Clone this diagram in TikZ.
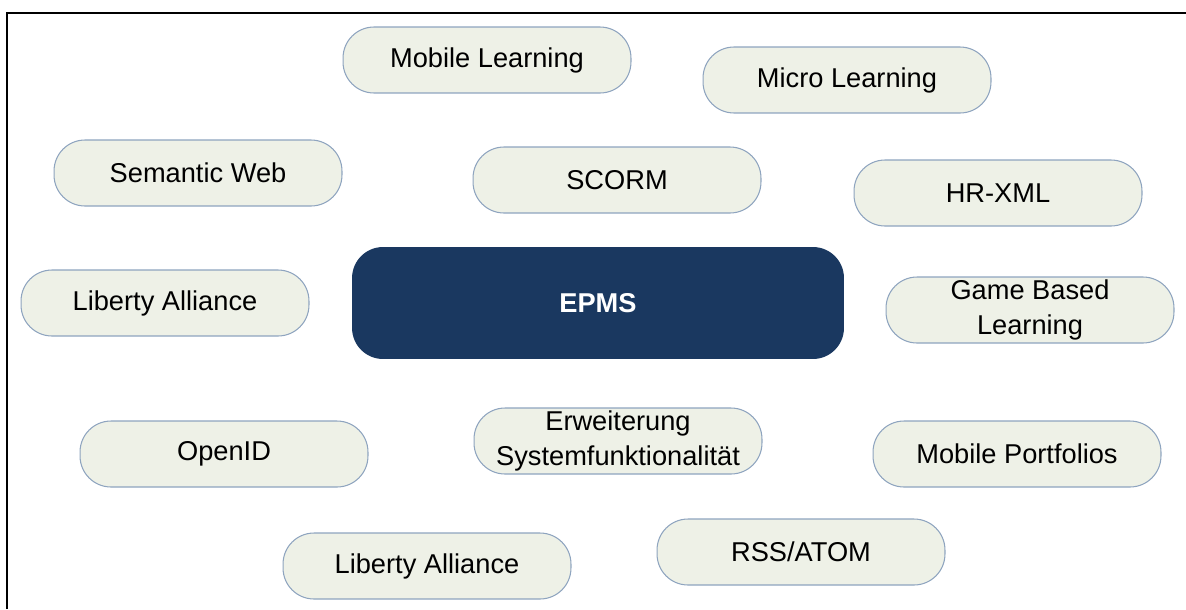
\documentclass[tikz,border=0pt]{standalone}
\usepackage{fontspec}
\setmainfont{Liberation Sans}
\usepackage{tikz}
\usetikzlibrary{positioning}
\definecolor{paleleaf}{HTML}{EEF1E7}
\definecolor{steelrim}{HTML}{8EA4BF}
\definecolor{deepnavy}{HTML}{1A3860}

\begin{document}
\begin{tikzpicture}[x=0.02cm,y=-0.02cm,
  topic/.style={draw=steelrim,line width=0.6pt,fill=paleleaf,rounded corners=0.62cm,
    minimum width=5.76cm,minimum height=1.32cm,inner sep=0pt,align=center,
    font=\fontsize{15.5}{19.5}\selectfont},
  core/.style={fill=deepnavy,rounded corners=0.62cm,minimum width=9.84cm,minimum height=2.24cm,
    inner sep=0pt,text=white,font=\fontsize{15.5}{19.5}\selectfont\bfseries}]
\useasboundingbox (0,0) rectangle (1186,609);
\draw[line width=1.6pt] (7,609) -- (7,13) -- (1186,13);
\node[core] (epms) at (598,303) {EPMS};
\node[topic] (mobile) at (487,60) {Mobile Learning};
\node[topic] (micro) at (847,80) {Micro Learning};
\node[topic] (semweb) at (198,173) {Semantic Web};
\node[topic] (scorm) at (617,180) {SCORM};
\node[topic] (hrxml) at (998,193) {HR-XML};
\node[topic] (libtop) at (165,303) {Liberty Alliance};
\node[topic] (game) at (1030,310) {Game Based\\Learning};
\node[topic] (openid) at (224,454) {OpenID};
\node[topic] (extend) at (618,441) {Erweiterung\\Systemfunktionalität};
\node[topic] (portfolio) at (1017,454) {Mobile Portfolios};
\node[topic] (libbottom) at (427,566) {Liberty Alliance};
\node[topic] (rss) at (801,552) {RSS/ATOM};
\end{tikzpicture}
\end{document}
